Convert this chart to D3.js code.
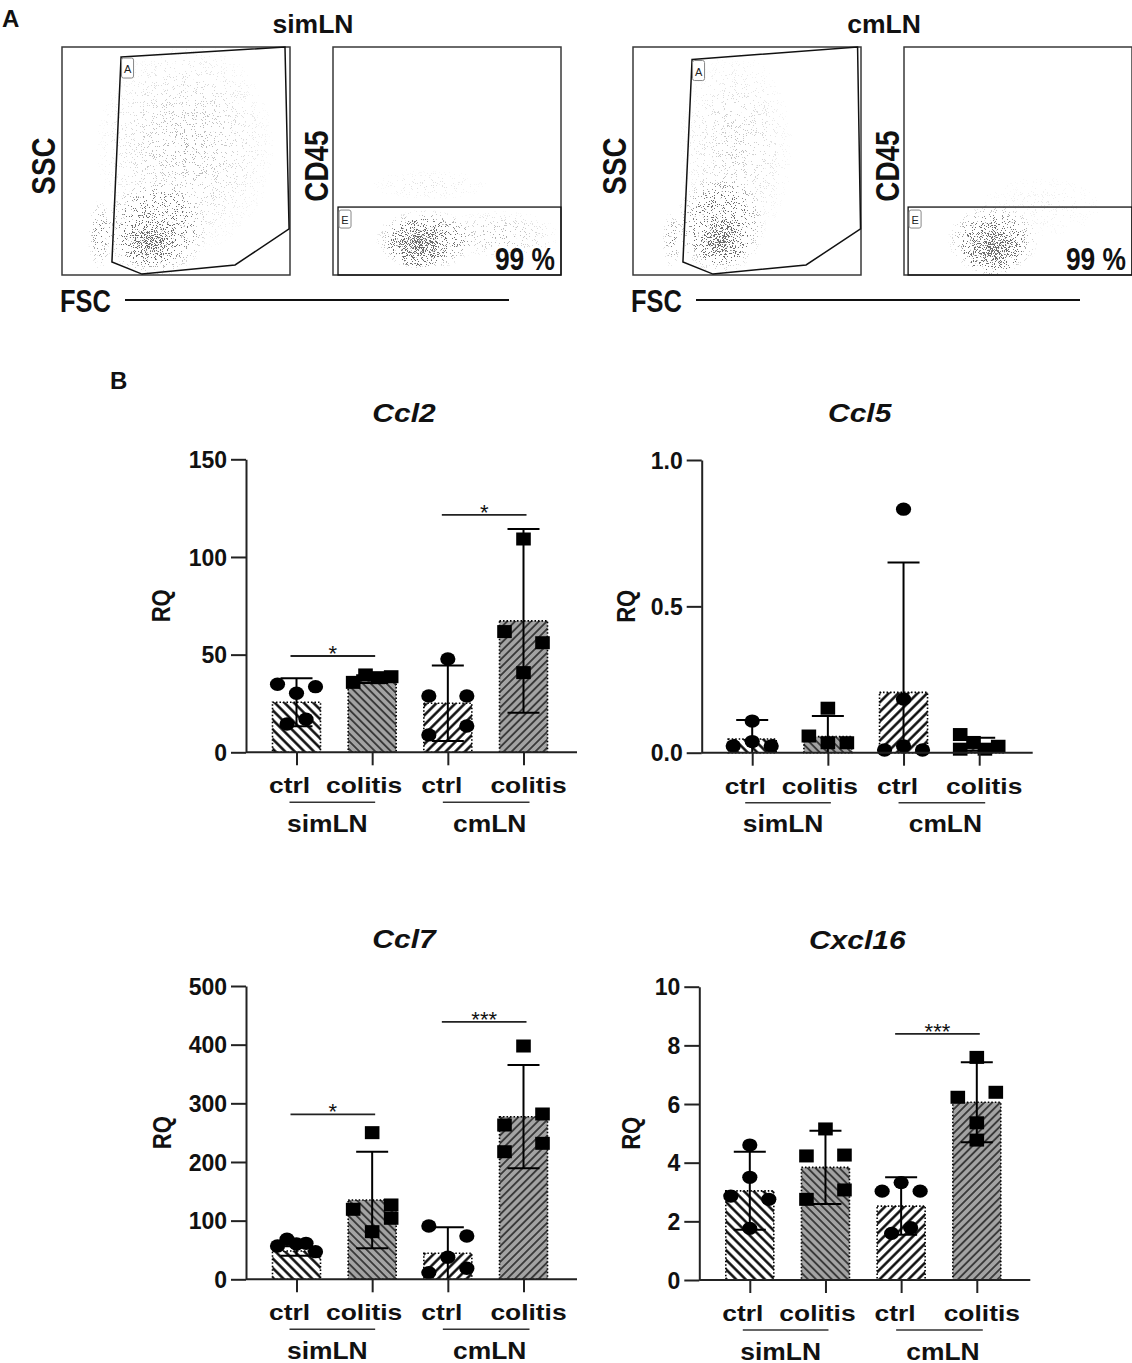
<!DOCTYPE html>
<html><head><meta charset="utf-8">
<script src="https://cdn.jsdelivr.net/npm/d3@7/dist/d3.min.js"></script>
<style>
html,body{margin:0;padding:0;background:#fff;}
svg{display:block;}
</style></head>
<body>
<svg id="fig" width="1132" height="1363" xmlns="http://www.w3.org/2000/svg">
<defs>
<filter id="speckle" filterUnits="userSpaceOnUse" x="0" y="0" width="1132" height="330" color-interpolation-filters="sRGB">
  <feTurbulence type="fractalNoise" baseFrequency="1.1" numOctaves="2" seed="7" result="noise"/>
  <feColorMatrix in="noise" type="matrix" values="0 0 0 0 0  0 0 0 0 0  0 0 0 0 0  3 0 0 0 -1" result="n"/>
  <feComposite in="n" in2="SourceGraphic" operator="arithmetic" k1="0" k2="1" k3="1" k4="-1" result="m"/>
  <feComponentTransfer in="m" result="t"><feFuncA type="linear" slope="12" intercept="0"/></feComponentTransfer>
  <feColorMatrix in="t" type="matrix" values="0 0 0 0 0.36  0 0 0 0 0.36  0 0 0 0 0.36  0 0 0 0.9 0"/>
</filter>
<radialGradient id="cloudGrad">
  <stop offset="0" stop-color="#000" stop-opacity="1"/>
  <stop offset="0.45" stop-color="#000" stop-opacity="0.6"/>
  <stop offset="1" stop-color="#000" stop-opacity="0"/>
</radialGradient>
</defs>
</svg>
<script>
// ================= DATA =================
// Panel A – flow cytometry (channel units 0..1000 on both axes)
const flowSamples = ["simLN", "cmLN"];
const flowPercent = ["99 %", "99 %"];
const scatterGates = [
  [[259,956],[978,1000],[996,202],[759,44],[351,4],[219,57]],
  [[259,945],[985,1000],[998,202],[759,44],[351,4],[219,57]]
];
const cd45Gates = [[22,298],[18,298]];            // left edge, top edge of gate "E"
const scatterClouds = [
  [{x:382,y:140,rx:130,ry:100,d:0.45},{x:408,y:197,rx:230,ry:210,d:0.18},{x:540,y:560,rx:400,ry:480,d:0.05},{x:167,y:175,rx:55,ry:160,d:0.10}],
  [{x:386,y:154,rx:125,ry:110,d:0.45},{x:382,y:219,rx:200,ry:220,d:0.16},{x:450,y:550,rx:260,ry:440,d:0.04},{x:171,y:154,rx:45,ry:130,d:0.09}]
];
const cd45Clouds = [
  [{x:373,y:140,rx:135,ry:110,d:0.50},{x:404,y:154,rx:220,ry:135,d:0.18},{x:730,y:175,rx:270,ry:110,d:0.05},{x:425,y:395,rx:270,ry:70,d:0.02}],
  [{x:390,y:123,rx:135,ry:125,d:0.50},{x:390,y:154,rx:200,ry:155,d:0.18},{x:600,y:300,rx:300,ry:150,d:0.012}]
];

// Panel B – qPCR
const groupKeys = ["simLN-ctrl","simLN-colitis","cmLN-ctrl","cmLN-colitis"];
const conditionLabels = ["ctrl","colitis","ctrl","colitis"];
const tissueLabels = ["simLN","cmLN"];
const geneNames = ["Ccl2","Ccl5","Ccl7","Cxcl16"];

const ccl2Mean = [25.6, 37.5, 25.1, 67.3];
const ccl2SD = [12.3, 2.0, 19.3, 47.0];
const ccl2Points = [[34.8,33.6,30.2,14.5,16.9],[35.8,39.6,38.2,38.7],[47.8,28.8,28.8,13.5,8.9],[109.2,61.8,56.1,40.8]];
const ccl2Slots = [[-2,2,0,-1,1],[-2,-0.7,0.6,2],[0,-2,2,2,-2],[0,-2,2,0]];
const ccl2Ticks = [0,50,100,150];
const ccl2Sig = [[0,1,49.3,"*"],[2,3,121.5,"*"]];

const ccl5Mean = [0.047, 0.055, 0.206, 0.029];
const ccl5SD = [0.065, 0.070, 0.444, 0.022];
const ccl5Points = [[0.023,0.038,0.108,0.023],[0.057,0.152,0.034,0.034],[0.832,0.183,0.009,0.023,0.009],[0.062,0.012,0.035,0.012,0.022]];
const ccl5Slots = [[-2,0,0,2],[-2,0,0,2],[0,0,-2,0,2],[-2,-2,-0.6,0.6,2]];
const ccl5Ticks = [0,0.5,1.0];
const ccl5Sig = [];

const ccl7Mean = [48.3, 135.2, 44.3, 277.2];
const ccl7SD = [8.0, 82.3, 44.3, 88.1];
const ccl7Points = [[56.8,68.2,60.2,61.3,47.1],[119.3,250,81.2,126.7,104],[90.9,73.8,37.5,11.4,18.8],[397.7,263,281.8,231.8,217.5]];
const ccl7Slots = [[-2,-1,0,1,2],[-2,0,0,2,2],[-2,2,0,-2,2],[0,-2,2,2,-2]];
const ccl7Ticks = [0,100,200,300,400,500];
const ccl7Sig = [[0,1,281,"*"],[2,3,439,"***"]];

const cxcl16Mean = [3.04, 3.84, 2.52, 6.06];
const cxcl16SD = [1.33, 1.25, 0.98, 1.36];
const cxcl16Points = [[4.60,3.50,2.86,2.75,1.76],[5.15,4.23,4.26,3.07,2.75],[3.03,3.32,3.03,1.59,1.78],[7.59,6.23,6.40,5.36,4.77]];
const cxcl16Slots = [[0,0,-2,2,0],[0,-2,2,2,-2],[-2,0,2,-1,1],[0,-2,2,0,0]];
const cxcl16Ticks = [0,2,4,6,8,10];
const cxcl16Sig = [[2,3,8.39,"***"]];

// ================= DRAW =================
const svg = d3.select("#fig");
const defs = svg.select("defs");
const BOLD = "'Liberation Sans', Arial, sans-serif";
const NARROW_SX = 0.82;   // condensed look of panel A axis texts

function hatch(id, angle, bg, sw, gap) {
  const p = defs.append("pattern").attr("id", id).attr("patternUnits", "userSpaceOnUse")
    .attr("width", gap).attr("height", gap).attr("patternTransform", `rotate(${angle})`);
  p.append("rect").attr("width", gap).attr("height", gap).attr("fill", bg);
  p.append("line").attr("x1", gap/2).attr("y1", -1).attr("x2", gap/2).attr("y2", gap+1)
    .attr("stroke", "#000").attr("stroke-width", sw);
}
hatch("h0", -45, "#ffffff", 2.4, 6.8);
hatch("h1", -45, "#a3a3a3", 1.2, 5.6);
hatch("h2", 45, "#ffffff", 2.4, 6.8);
hatch("h3", 45, "#a3a3a3", 1.2, 5.6);
const hatchIds = ["h0","h1","h2","h3"];

function stext(g, x, y, str, size, sx, weight, family, anchor, style) {
  return g.append("text")
    .attr("transform", `translate(${x},${y}) scale(${sx},1)`)
    .attr("text-anchor", anchor || "middle")
    .attr("font-family", family || BOLD)
    .attr("font-weight", weight || "bold")
    .attr("font-style", style || "normal")
    .attr("font-size", size)
    .attr("fill", "#111")
    .text(str);
}
function vtext(g, x, y, str, size, sy) {
  return g.append("text")
    .attr("transform", `translate(${x},${y}) scale(1,${sy}) rotate(-90)`)
    .attr("text-anchor", "middle").attr("dy", "0.36em")
    .attr("font-family", BOLD).attr("font-weight", "bold")
    .attr("font-size", size).attr("fill", "#111").text(str);
}

// ---------- Panel A ----------
stext(svg, 2, 27, "A", 24, 1, "bold", BOLD, "start");

flowSamples.forEach((name, i) => {
  const ox = i * 571;
  const g = svg.append("g");
  const boxL = {x: 62 + ox, y: 47, w: 228, h: 228};
  const boxR = {x: 333 + ox, y: 47, w: 228, h: 228};
  const xL = d3.scaleLinear().domain([0,1000]).range([boxL.x, boxL.x + boxL.w]);
  const yL = d3.scaleLinear().domain([0,1000]).range([boxL.y + boxL.h, boxL.y]);
  const xR = d3.scaleLinear().domain([0,1000]).range([boxR.x, boxR.x + boxR.w]);
  const yR = d3.scaleLinear().domain([0,1000]).range([boxR.y + boxR.h, boxR.y]);

  // title
  stext(g, 313 + ox, 33, name, 26, 1.02, "bold", BOLD);

  // clip paths
  [["L", boxL], ["R", boxR]].forEach(([k, b]) => {
    defs.append("clipPath").attr("id", `clip${k}${i}`).append("rect")
      .attr("x", b.x).attr("y", b.y).attr("width", b.w).attr("height", b.h);
  });

  // clouds (speckle density)
  const drawClouds = (clouds, xs, ys, clipId) => {
    const cg = g.append("g").attr("clip-path", `url(#${clipId})`)
      .append("g").attr("filter", "url(#speckle)");
    cg.selectAll("ellipse").data(clouds).join("ellipse")
      .attr("cx", d => xs(d.x)).attr("cy", d => ys(d.y))
      .attr("rx", d => xs(d.rx) - xs(0)).attr("ry", d => ys(0) - ys(d.ry))
      .attr("fill", "url(#cloudGrad)").attr("fill-opacity", d => d.d);
  };
  drawClouds(scatterClouds[i], xL, yL, `clipL${i}`);
  drawClouds(cd45Clouds[i], xR, yR, `clipR${i}`);

  // boxes
  [boxL, boxR].forEach(b => g.append("rect").attr("x", b.x).attr("y", b.y)
    .attr("width", b.w).attr("height", b.h).attr("fill", "none")
    .attr("stroke", "#3a3a3a").attr("stroke-width", 1.5));

  // gate A polygon
  const gate = scatterGates[i];
  g.append("path").attr("d", d3.line().x(d => xL(d[0])).y(d => yL(d[1]))(gate) + "Z")
    .attr("fill", "none").attr("stroke", "#111").attr("stroke-width", 1.5);
  const gx = xL(gate[0][0]), gy = yL(gate[0][1]);
  g.append("rect").attr("x", gx + 0.5).attr("y", gy + 1).attr("width", 12).attr("height", 20).attr("rx", 2)
    .attr("fill", "#fff").attr("stroke", "#888").attr("stroke-width", 1);
  g.append("text").attr("x", gx + 6.5).attr("y", gy + 16).attr("text-anchor", "middle")
    .attr("font-family", BOLD).attr("font-size", 11).attr("fill", "#222").text("A");

  // gate E
  const eg = cd45Gates[i];
  const ex = xR(eg[0]), ey = yR(eg[1]);
  g.append("rect").attr("x", ex).attr("y", ey).attr("width", xR(1000) - ex).attr("height", yR(0) - ey)
    .attr("fill", "none").attr("stroke", "#111").attr("stroke-width", 1.3);
  g.append("rect").attr("x", ex + 1).attr("y", ey + 3).attr("width", 12).attr("height", 18).attr("rx", 2)
    .attr("fill", "#fff").attr("stroke", "#888").attr("stroke-width", 1);
  g.append("text").attr("x", ex + 7).attr("y", ey + 17).attr("text-anchor", "middle")
    .attr("font-family", BOLD).attr("font-size", 11).attr("fill", "#222").text("E");

  // percentage
  stext(g, 555 + ox, 270, flowPercent[i], 31, 0.85, "bold", BOLD, "end");

  // axis labels
  vtext(g, 43 + ox, 166, "SSC", 34, NARROW_SX);
  vtext(g, 316 + ox, 166, "CD45", 34, NARROW_SX);
  stext(g, 60 + ox, 312, "FSC", 31, NARROW_SX, "bold", BOLD, "start");
  g.append("line").attr("x1", 125 + ox).attr("x2", 509 + ox).attr("y1", 300).attr("y2", 300)
    .attr("stroke", "#111").attr("stroke-width", 2);
});

// ---------- Panel B ----------
stext(svg, 110, 389, "B", 24, 1, "bold", BOLD, "start");

const charts = [
  {gene: geneNames[0], mean: ccl2Mean, sd: ccl2SD, pts: ccl2Points, slots: ccl2Slots, ticks: ccl2Ticks, sig: ccl2Sig, fmt: d3.format("d"), ax: 246, y0: 752.3, yTop: 459.3, rq: 85},
  {gene: geneNames[1], mean: ccl5Mean, sd: ccl5SD, pts: ccl5Points, slots: ccl5Slots, ticks: ccl5Ticks, sig: ccl5Sig, fmt: d3.format(".1f"), ax: 701.7, y0: 752.7, yTop: 460, rq: 76},
  {gene: geneNames[2], mean: ccl7Mean, sd: ccl7SD, pts: ccl7Points, slots: ccl7Slots, ticks: ccl7Ticks, sig: ccl7Sig, fmt: d3.format("d"), ax: 246, y0: 1279.3, yTop: 986, rq: 84.5},
  {gene: geneNames[3], mean: cxcl16Mean, sd: cxcl16SD, pts: cxcl16Points, slots: cxcl16Slots, ticks: cxcl16Ticks, sig: cxcl16Sig, fmt: d3.format("d"), ax: 699.3, y0: 1280, yTop: 986.7, rq: 69}
];

charts.forEach(c => {
  const g = svg.append("g");
  const y = d3.scaleLinear().domain([0, d3.max(c.ticks)]).range([c.y0, c.yTop]);
  const x = d3.scalePoint().domain(groupKeys).range([c.ax + 50.5, c.ax + 277.5]);
  const cx = i => x(groupKeys[i]);

  // bars
  g.selectAll("rect.bar").data(c.mean).join("rect").attr("class", "bar")
    .attr("x", (d, i) => cx(i) - 24).attr("width", 48)
    .attr("y", d => y(d)).attr("height", d => c.y0 - y(d))
    .attr("fill", (d, i) => `url(#${hatchIds[i]})`)
    .attr("stroke", "#000").attr("stroke-width", 1.6).attr("stroke-dasharray", "1.5,2");

  // error bars
  c.mean.forEach((m, i) => {
    const hi = m + c.sd[i], lo = Math.max(0, m - c.sd[i]);
    const xc = cx(i);
    g.append("line").attr("x1", xc).attr("x2", xc).attr("y1", y(lo)).attr("y2", y(hi))
      .attr("stroke", "#000").attr("stroke-width", 2);
    g.append("line").attr("x1", xc - 16).attr("x2", xc + 16).attr("y1", y(hi)).attr("y2", y(hi))
      .attr("stroke", "#000").attr("stroke-width", 2);
    if (m - c.sd[i] > 0) {
      g.append("line").attr("x1", xc - 16).attr("x2", xc + 16).attr("y1", y(lo)).attr("y2", y(lo))
        .attr("stroke", "#000").attr("stroke-width", 2);
    }
  });

  // points
  const flat = [];
  c.pts.forEach((arr, i) => arr.forEach((v, j) => flat.push({v, i, s: c.slots[i][j]})));
  g.selectAll("ellipse.pt").data(flat.filter(d => d.i % 2 === 0)).join("ellipse").attr("class", "pt")
    .attr("cx", d => cx(d.i) + d.s * 9.5).attr("cy", d => y(d.v))
    .attr("rx", 7.6).attr("ry", 6.7).attr("fill", "#000");
  g.selectAll("rect.pt").data(flat.filter(d => d.i % 2 === 1)).join("rect").attr("class", "pt")
    .attr("x", d => cx(d.i) + d.s * 9.5 - 7.3).attr("y", d => y(d.v) - 6.5)
    .attr("width", 14.6).attr("height", 13).attr("fill", "#000");

  // y axis
  const ya = g.append("g").attr("transform", `translate(${c.ax},0)`)
    .call(d3.axisLeft(y).tickValues(c.ticks).tickFormat(c.fmt).tickSize(15).tickPadding(4).tickSizeOuter(0));
  ya.select(".domain").attr("stroke", "#222").attr("stroke-width", 2);
  ya.selectAll(".tick line").attr("stroke", "#222").attr("stroke-width", 2);
  ya.selectAll(".tick text").attr("font-family", BOLD).attr("font-weight", "bold")
    .attr("font-size", 23).attr("fill", "#111").attr("dy", "0.36em");

  // x axis
  g.append("line").attr("x1", c.ax).attr("x2", c.ax + 331).attr("y1", c.y0).attr("y2", c.y0)
    .attr("stroke", "#222").attr("stroke-width", 2);
  const xa = g.append("g").attr("transform", `translate(0,${c.y0})`)
    .call(d3.axisBottom(x).tickSize(13).tickFormat(""));
  xa.select(".domain").remove();
  xa.selectAll(".tick line").attr("stroke", "#222").attr("stroke-width", 2);

  // significance
  c.sig.forEach(([a, b, v, lab]) => {
    const x1 = cx(a) - 6, x2 = cx(b) + 3, yy = y(v);
    g.append("line").attr("x1", x1).attr("x2", x2).attr("y1", yy).attr("y2", yy)
      .attr("stroke", "#222").attr("stroke-width", 1.8);
    stext(g, (x1 + x2) / 2, yy + 5, lab, 22, 1, "normal", BOLD);
  });

  // title
  stext(g, c.ax + 158, c.yTop - 37.6, c.gene, 25, 1.2, "bold", BOLD, "middle", "italic");

  // RQ label
  g.append("text").attr("transform", `translate(${c.ax - c.rq},${(c.y0 + c.yTop) / 2}) scale(1.2,1) rotate(-90)`)
    .attr("text-anchor", "middle").attr("dy", "0.35em").attr("font-family", BOLD).attr("font-weight", "bold")
    .attr("font-size", 22).attr("fill", "#111").text("RQ");

  // category labels
  const labOff = [-7, -8, -6, 5];
  conditionLabels.forEach((lab, i) => stext(g, cx(i) + labOff[i], c.y0 + 41, lab, 22, 1.2, "bold", BOLD));
  // tissue group lines + labels
  const gl = [[cx(0) - 7, cx(1) + 3, (cx(0) + cx(1)) / 2 - 7], [cx(2) - 5, cx(3) + 6, (cx(2) + cx(3)) / 2 + 4]];
  gl.forEach(([a, b, m], k) => {
    g.append("line").attr("x1", a).attr("x2", b).attr("y1", c.y0 + 50).attr("y2", c.y0 + 50)
      .attr("stroke", "#333").attr("stroke-width", 1.6);
    stext(g, m, c.y0 + 79.5, tissueLabels[k], 24, 1.1, "bold", BOLD);
  });
});
</script>
</body></html>
